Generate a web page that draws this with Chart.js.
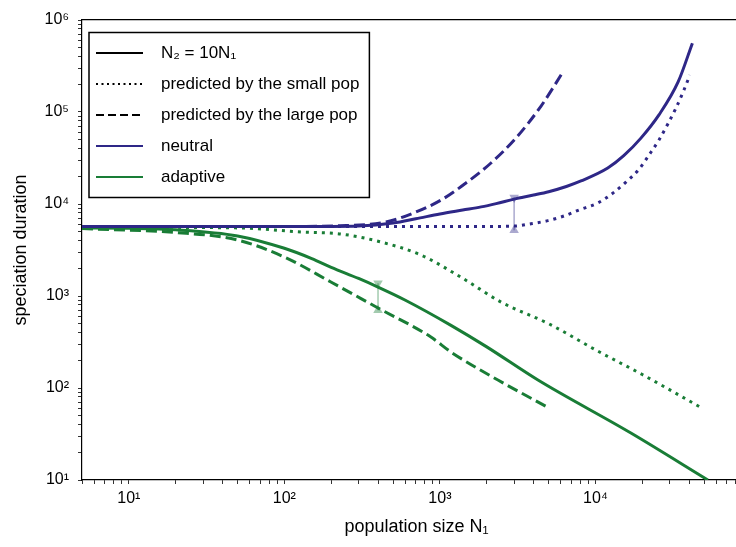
<!DOCTYPE html>
<html>
<head>
<meta charset="utf-8">
<script src="https://cdn.jsdelivr.net/npm/chart.js@4.4.0/dist/chart.umd.min.js"></script>
<style>
  html, body { margin: 0; padding: 0; background: #fff; overflow: hidden; }
  #wrap { width: 760px; height: 547px; }
</style>
</head>
<body>
<div id="wrap"><canvas id="myChart" width="760" height="547"></canvas></div>
<script>
// colores
const NAVY = "#2e2787";
const GREEN = "#197d36";
const NAVY_LIGHT = "rgba(46, 39, 135, 0.4)";
const GREEN_LIGHT = "rgba(25, 125, 54, 0.4)";

// ejes
const xMajorTicks = [10, 100, 1000, 10000];
const xMajorLabels = ["10¹", "10²", "10³", "10⁴"];
const yMajorTicks = [10, 100, 1000, 10000, 100000, 1000000];
const yMajorLabels = ["10¹", "10²", "10³", "10⁴", "10⁵", "10⁶"];
const minorSteps = [1, 2, 3, 4, 5, 6, 7, 8, 9];

// neutral
const neutralN = [5, 20, 100, 200, 300, 500, 700, 1000, 1400, 1840, 2300, 3000, 4000, 5000, 6500, 8070, 12000, 15200, 19600, 25600, 34000, 42000];
const neutralT = [5700, 5700, 5700, 5700, 5750, 6200, 6900, 7800, 8600, 9300, 10100, 11300, 12500, 13600, 15500, 17800, 24600, 33500, 52000, 93000, 212000, 560000];
const neutralSmallN = [5, 100, 1000, 2000, 3000, 3850, 4960, 6270, 7830, 10400, 13000, 15700, 19100, 22100, 25600, 29200, 32900, 36600, 40500];
const neutralSmallT = [5700, 5700, 5700, 5700, 5750, 6100, 6600, 7400, 8600, 10300, 13200, 17300, 24000, 34100, 49700, 74100, 110000, 165000, 252000];
const neutralLargeN = [5, 100, 230, 450, 651, 1014, 1470, 2130, 3080, 4470, 6180];
const neutralLargeT = [5700, 5700, 5800, 6370, 7780, 11000, 16900, 27900, 52100, 116000, 272000];

// adaptive
const adaptiveN = [5, 10, 20, 50, 100, 150, 200, 300, 400, 600, 1178, 2000, 4270, 16900, 52800];
const adaptiveT = [5500, 5450, 5250, 4500, 3300, 2550, 2050, 1550, 1250, 900, 480, 280, 122, 32.4, 10];
const adaptiveSmallN = [5, 50, 128, 231, 418, 755, 1365, 2500, 5000, 10000, 20000, 48000];
const adaptiveSmallT = [5600, 5500, 4970, 4720, 3860, 2790, 1600, 850, 500, 260, 140, 61];
const adaptiveLargeN = [5, 20, 50, 100, 199, 400, 875, 1178, 2360, 5000];
const adaptiveLargeT = [5400, 4900, 4060, 2650, 1420, 741, 358, 246, 122, 61];

// barras de error
const neutralErrN = [3000, 3000];
const neutralErrT = [11800, 5200];
const adaptiveErrN = [400, 400];
const adaptiveErrT = [1380, 700];

const toPoints = (xs, ys) => xs.map((x, i) => ({ x: x, y: ys[i] }));

const buildTicks = (min, max) => {
  const ticks = [];
  yMajorTicks.concat([1]).sort((a, b) => a - b).forEach((d) => {
    minorSteps.forEach((m) => {
      const v = m * d;
      if (v >= min && v <= max && !ticks.includes(v)) ticks.push(v);
    });
  });
  return ticks.sort((a, b) => a - b);
};

const line = (label, xs, ys, color, dash) => ({
  label: label,
  data: toPoints(xs, ys),
  borderColor: color,
  backgroundColor: color,
  borderWidth: 3,
  borderDash: dash,
  pointRadius: 0,
  cubicInterpolationMode: "monotone",
  fill: false,
});

const errBar = (label, xs, ys, color) => ({
  label: label,
  data: toPoints(xs, ys),
  borderColor: color,
  backgroundColor: color,
  borderWidth: 1.5,
  pointStyle: "triangle",
  pointRadius: 5.5,
  pointRotation: [180, 0],
  pointBorderWidth: 0,
  pointBackgroundColor: color,
  tension: 0,
  fill: false,
});

const legendItems = [
  { text: "  N₂ = 10N₁", strokeStyle: "#000", lineDash: [] },
  { text: "  predicted by the small pop", strokeStyle: "#000", lineDash: [2, 3.5] },
  { text: "  predicted by the large pop", strokeStyle: "#000", lineDash: [8, 4] },
  { text: "  neutral", strokeStyle: NAVY, lineDash: [] },
  { text: "  adaptive", strokeStyle: GREEN, lineDash: [] },
].map((it, i) => ({
  text: it.text,
  fillStyle: it.strokeStyle,
  strokeStyle: it.strokeStyle,
  lineWidth: 2,
  lineDash: it.lineDash,
  pointStyle: "line",
  fontColor: "#000",
  hidden: false,
  datasetIndex: i,
}));

// marco de la leyenda
const legendFrame = {
  id: "legendFrame",
  afterDraw(chart) {
    const boxes = chart.legend.legendHitBoxes;
    if (!boxes || !boxes.length) return;
    const left = Math.min(...boxes.map((b) => b.left)) - 7;
    const right = Math.max(...boxes.map((b) => b.left + b.width)) + 10;
    const top = boxes[0].top - 12;
    const bottom = boxes[boxes.length - 1].top + boxes[boxes.length - 1].height + 12;
    const ctx = chart.ctx;
    ctx.save();
    ctx.strokeStyle = "#000";
    ctx.lineWidth = 1.5;
    ctx.strokeRect(left, top, right - left, bottom - top);
    ctx.restore();
  },
};

Chart.defaults.font.family = "'Liberation Sans', Arial, sans-serif";
Chart.defaults.color = "#000";

const ctx = document.getElementById("myChart").getContext("2d");

new Chart(ctx, {
  type: "line",
  data: {
    datasets: [
      errBar("neutral error", neutralErrN, neutralErrT, NAVY_LIGHT),
      errBar("adaptive error", adaptiveErrN, adaptiveErrT, GREEN_LIGHT),
      line("neutral", neutralN, neutralT, NAVY, []),
      line("neutral small pop", neutralSmallN, neutralSmallT, NAVY, [3, 5]),
      line("neutral large pop", neutralLargeN, neutralLargeT, NAVY, [11, 5]),
      line("adaptive", adaptiveN, adaptiveT, GREEN, []),
      line("adaptive small pop", adaptiveSmallN, adaptiveSmallT, GREEN, [3, 5]),
      line("adaptive large pop", adaptiveLargeN, adaptiveLargeT, GREEN, [11, 5]),
    ],
  },
  options: {
    responsive: false,
    animation: false,
    layout: { padding: { left: 0, right: 9, top: 20, bottom: 0 } },
    plugins: {
      tooltip: { enabled: false },
      legend: {
        position: "chartArea",
        align: "start",
        title: { display: true, text: "", font: { size: 5 }, padding: { top: 24.5, bottom: 0 } },
        labels: {
          usePointStyle: true,
          pointStyleWidth: 47,
          padding: 14,
          color: "#000",
          font: { size: 17 },
          generateLabels: () => legendItems,
        },
      },
    },
    scales: {
      x: {
        type: "logarithmic",
        position: "bottom",
        min: 5,
        max: 100000,
        afterBuildTicks: (scale) => {
          scale.ticks = buildTicks(5, 90000).map((v) => ({ value: v }));
        },
        afterFit: (scale) => {
          scale.height = 67;
        },
        ticks: {
          autoSkip: false,
          maxRotation: 0,
          padding: 5,
          color: "#000",
          font: { size: 16 },
          callback: (value) => {
            const i = xMajorTicks.indexOf(value);
            return i >= 0 ? xMajorLabels[i] : "";
          },
        },
        grid: { drawOnChartArea: false, tickLength: 4, tickColor: "#333" },
        border: { color: "#000", width: 1.2 },
        title: { display: true, text: "population size N₁", font: { size: 18 }, color: "#000", padding: { top: 4, bottom: 9 } },
      },
      xTop: {
        type: "logarithmic",
        position: "top",
        min: 5,
        max: 100000,
        ticks: { display: false },
        grid: { display: false, drawTicks: false },
        border: { color: "#000", width: 1.2 },
      },
      y: {
        type: "logarithmic",
        position: "left",
        min: 10,
        max: 1000000,
        afterBuildTicks: (scale) => {
          scale.ticks = buildTicks(10, 1000000).map((v) => ({ value: v }));
        },
        afterFit: (scale) => {
          scale.width = 82;
        },
        ticks: {
          autoSkip: false,
          padding: 9,
          color: "#000",
          font: { size: 16 },
          callback: (value) => {
            const i = yMajorTicks.indexOf(value);
            return i >= 0 ? yMajorLabels[i] : "";
          },
        },
        grid: { drawOnChartArea: false, tickLength: 4, tickColor: "#333" },
        border: { color: "#000", width: 1.2 },
        title: { display: true, text: "speciation duration", font: { size: 18 }, color: "#000", padding: { top: 10, bottom: 4 } },
      },
    },
  },
  plugins: [legendFrame],
});
</script>
</body>
</html>
